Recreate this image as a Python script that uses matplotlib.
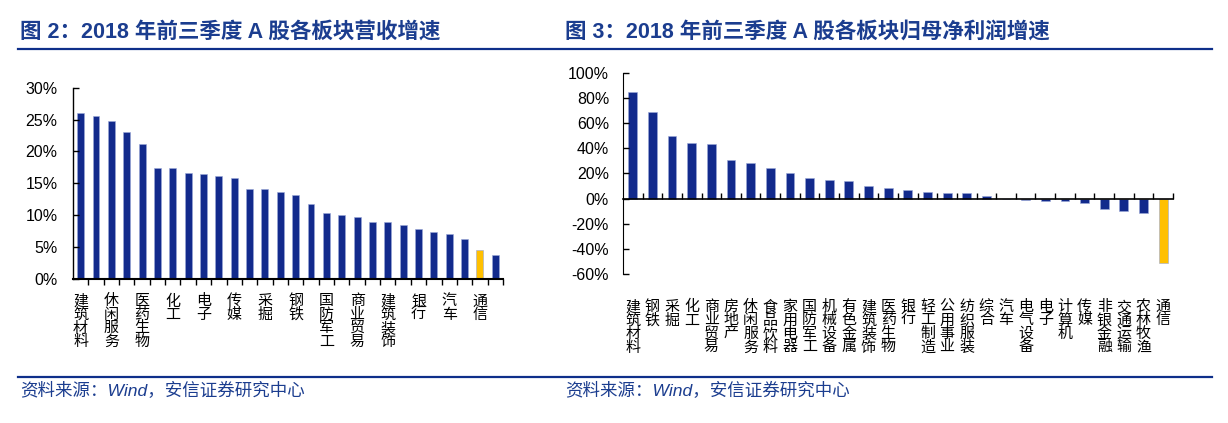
import matplotlib.pyplot as plt
from matplotlib.lines import Line2D
import numpy as np

plt.rcParams['font.family'] = ['Liberation Sans', 'Noto Sans CJK SC', 'DejaVu Sans']

# 图2 营收增速（只标注了隔一个的行业名）
rev_labels = ['建筑材料', '', '休闲服务', '', '医药生物', '', '化工', '', '电子', '',
              '传媒', '', '采掘', '', '钢铁', '', '国防军工', '', '商业贸易', '',
              '建筑装饰', '', '银行', '', '汽车', '', '通信', '']
rev_values = [26.1, 25.6, 24.8, 23.0, 21.2, 17.4, 17.4, 16.6, 16.4, 16.2,
              15.9, 14.1, 14.1, 13.6, 13.1, 11.8, 10.3, 10.0, 9.8, 9.0,
              9.0, 8.5, 7.8, 7.3, 7.0, 6.2, 4.5, 3.7]

# 图3 归母净利润增速
np_labels = ['建筑材料', '钢铁', '采掘', '化工', '商业贸易', '房地产', '休闲服务',
             '食品饮料', '家用电器', '国防军工', '机械设备', '有色金属', '建筑装饰',
             '医药生物', '银行', '轻工制造', '公用事业', '纺织服装', '综合', '汽车',
             '电气设备', '电子', '计算机', '传媒', '非银金融', '交通运输', '农林牧渔', '通信']
np_values = [84.7, 69.2, 49.8, 44.7, 43.4, 30.6, 28.0, 24.2, 20.0, 16.2,
             14.6, 13.6, 9.9, 8.3, 6.9, 5.6, 4.3, 4.3, 1.9, -0.5,
             -0.8, -1.9, -1.9, -3.2, -8.5, -9.9, -11.2, -51.4]

highlight = '通信'
blue = '#122A8C'
yellow = '#FFC000'
navy = '#0E2F8A'
title_color = '#1B3D8F'

fig = plt.figure(figsize=(12.28, 4.23), dpi=100)


def vertical(s):
    return '\n'.join(s)


# ---------- 左图 ----------
ax1 = fig.add_axes([0.0594, 0.3404, 0.3502, 0.4523])
x1 = np.arange(len(rev_values))
c1 = [blue] * len(rev_values)
c1[rev_labels.index(highlight)] = yellow
ax1.bar(x1, rev_values, width=0.45, color=c1, edgecolor='#9AA8D8', linewidth=0.4)
ax1.set_xlim(-0.5, len(rev_values) - 0.5)
ax1.set_ylim(0, 30)
ax1.set_yticks(range(0, 31, 5))
ax1.set_yticklabels([f'{v}%' for v in range(0, 31, 5)], fontsize=11.5)
ax1.tick_params(axis='y', direction='in', length=4, pad=11, width=1)
ax1.set_xticks(x1)
ax1.set_xticklabels([vertical(s) for s in rev_labels], fontsize=10.8,
                    family=['Noto Sans CJK SC'], linespacing=0.95, va='top')
ax1.tick_params(axis='x', which='major', length=0, pad=11)
ax1.set_xticks(np.arange(0.5, len(rev_values), 1), minor=True)
ax1.tick_params(axis='x', which='minor', direction='out', length=4, width=1)
for s in ['top', 'right']:
    ax1.spines[s].set_visible(False)
ax1.spines['left'].set_linewidth(1)
ax1.spines['bottom'].set_linewidth(1.5)

# ---------- 右图 ----------
ax2 = fig.add_axes([0.5073, 0.353, 0.4479, 0.4738])
x2 = np.arange(len(np_values))
c2 = [blue] * len(np_values)
c2[np_labels.index(highlight)] = yellow
ax2.bar(x2, np_values, width=0.45, color=c2, edgecolor='#9AA8D8', linewidth=0.4)
ax2.set_xlim(-0.5, len(np_values) - 0.5)
ax2.set_ylim(-60, 100)
ax2.set_yticks(range(-60, 101, 20))
ax2.set_yticklabels([f'{v}%' for v in range(-60, 101, 20)], fontsize=11.5)
ax2.tick_params(axis='y', direction='in', length=4, pad=10, width=1)
ax2.spines['bottom'].set_position(('data', 0))
ax2.spines['bottom'].set_linewidth(1.2)
for s in ['top', 'right']:
    ax2.spines[s].set_visible(False)
ax2.set_xticks(x2)
ax2.set_xticklabels([vertical(s) for s in np_labels], fontsize=10.8,
                    family=['Noto Sans CJK SC'], linespacing=0.95, va='top')
ax2.tick_params(axis='x', which='major', length=0, pad=73)
ax2.set_xticks(np.arange(0.5, len(np_values), 1), minor=True)
ax2.tick_params(axis='x', which='minor', direction='in', length=4.5, width=1)

# ---------- 标题、分隔线、来源 ----------
fig.text(20 / 1228, 1 - 32 / 423, '图 2：2018 年前三季度 A 股各板块营收增速',
         fontsize=15.5, fontweight='bold', color=title_color, va='center', ha='left')
fig.text(565 / 1228, 1 - 32 / 423, '图 3：2018 年前三季度 A 股各板块归母净利润增速',
         fontsize=15.5, fontweight='bold', color=title_color, va='center', ha='left')

fig.add_artist(Line2D([18 / 1228, 1212 / 1228], [1 - 49 / 423] * 2,
                      color=navy, linewidth=1.6))
fig.add_artist(Line2D([18 / 1228, 1212 / 1228], [1 - 377 / 423] * 2,
                      color=navy, linewidth=1.6))

fig.text(20 / 1228, 1 - 390 / 423, '资料来源：Wind，安信证券研究中心',
         fontsize=12.6, style='italic', color=title_color, va='center', ha='left')
fig.text(565 / 1228, 1 - 390 / 423, '资料来源：Wind，安信证券研究中心',
         fontsize=12.6, style='italic', color=title_color, va='center', ha='left')

fig.savefig('out.png', dpi=100)
